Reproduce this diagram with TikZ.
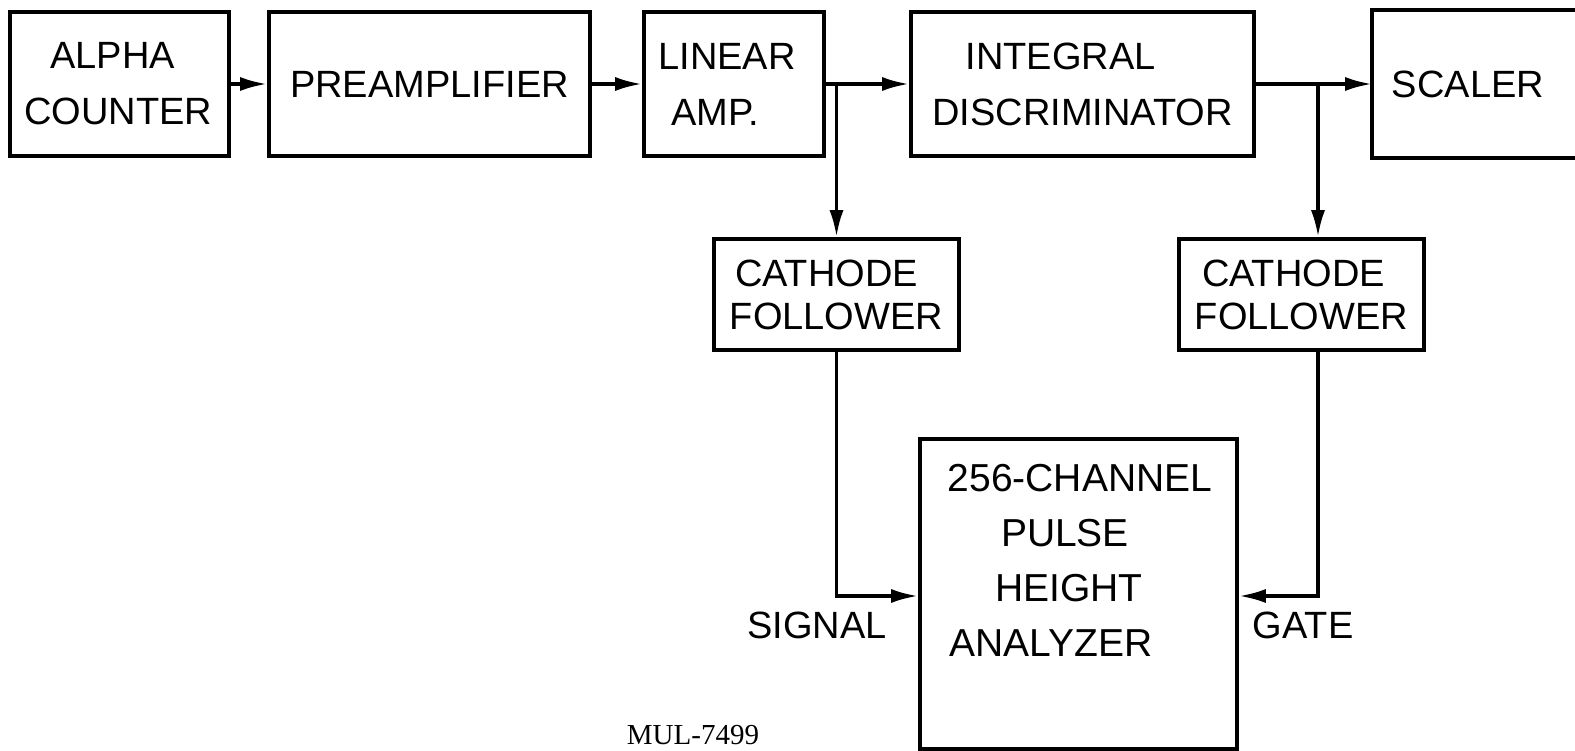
\documentclass[tikz,border=0pt]{standalone}
\usepackage{fontspec}
\setmainfont{Liberation Sans}
\newfontfamily\serifm{Liberation Serif}
\usetikzlibrary{arrows.meta}
\begin{document}
\begin{tikzpicture}[x=1pt,y=-1pt,
  box/.style={draw, line width=3.6pt, line join=miter, align=center, inner sep=0pt,
    font=\fontsize{38}{56}\selectfont},
  cfbox/.style={box, minimum width=245pt, minimum height=111pt, font=\fontsize{38}{43}\selectfont},
  lbl/.style={font=\fontsize{38}{44}\selectfont},
  ln/.style={line width=3.6pt, line join=miter},
  arr/.style={line width=3.6pt, line join=miter, -{Latex[length=27pt,width=14pt]}}]
\useasboundingbox (0,0) rectangle (1575,751);

% top row
\node[box, minimum width=219pt, minimum height=144pt] (ac) at (119.5,84)
  {ALPHA\hspace*{14pt}\\COUNTER\hspace*{2pt}};
\node[box, minimum width=321pt, minimum height=144pt] (pa) at (429.5,84) {PREAMPLIFIER};
\node[box, minimum width=180pt, minimum height=144pt] (la) at (734,84)
  {LINEAR\hspace*{14pt}\\AMP.\hspace*{38pt}};
\node[box, minimum width=343pt, minimum height=144pt] (id) at (1082.5,84)
  {INTEGRAL\hspace*{44pt}\\DISCRIMINATOR};
\node[box, draw=none, minimum width=188pt, minimum height=144pt] (sc) at (1468,84) {SCALER};
\draw[ln] ([xshift=240pt]sc.north west) -- (sc.north west) -- (sc.south west) -- ++(240pt,0);

% cathode followers
\node[cfbox] (cf1) at (836.5,294.5) {CATHODE\hspace*{20pt}\\FOLLOWER};
\node[cfbox] (cf2) at (1301.5,294.5) {CATHODE\hspace*{16pt}\\FOLLOWER};

% analyzer
\node[draw, line width=3.6pt, minimum width=317pt, minimum height=310pt] (an) at (1078.5,594) {};
\node[align=center, font=\fontsize{39}{55}\selectfont] (antext) at (1065,560.5)
  {\hspace*{30pt}256-CHANNEL\\PULSE\hspace*{12pt}\\\hspace*{8pt}HEIGHT\\ANALYZER\hspace*{28pt}};

% connectors
\draw[arr] (ac) -- (pa);
\draw[arr] (pa) -- (la);
\draw[arr] (la) -- (id);
\draw[arr] (id) -- (sc.west);
\coordinate (b1) at (cf1.north |- la.east);
\draw[arr] (b1) -- (cf1.north);
\coordinate (b2) at (1318,84);
\draw[arr] (b2) -- (b2 |- cf2.north);
\coordinate (sy) at (0,596);
\draw[arr] (cf1.south) |- (an.west |- sy);
\draw[arr] (b2 |- cf2.south) |- (an.east |- sy);

% labels
\node[lbl] (sig) at (817,625) {SIGNAL};
\node[lbl] (gate) at (1303,625) {GATE};
\node[font=\serifm\fontsize{29}{34}\selectfont] (mul) at (693,735) {MUL-7499};
\end{tikzpicture}
\end{document}
